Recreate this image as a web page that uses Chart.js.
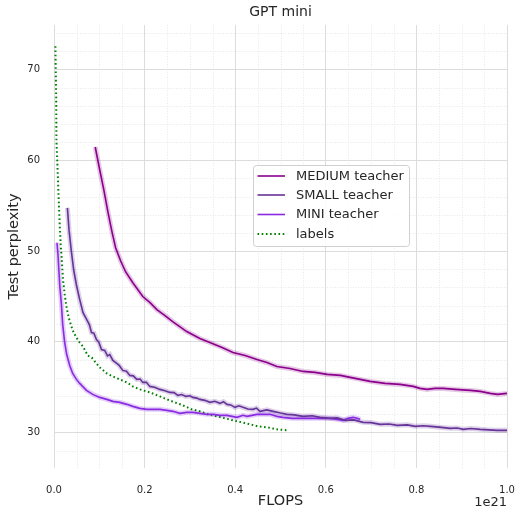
<!DOCTYPE html>
<html><head><meta charset="utf-8">
<script src="https://cdn.jsdelivr.net/npm/chart.js@4"></script>
<style>html,body{margin:0;padding:0;background:#fff}#wrap{width:516px;height:510px}</style>
</head><body><div id="wrap"><canvas id="c" width="516" height="510"></canvas></div>
<script>
const chartTitle = 'GPT mini';
const xTitle = 'FLOPS';
const yTitle = 'Test perplexity';
const xOffsetText = '1e21';
const xTicks = [0.0, 0.2, 0.4, 0.6, 0.8, 1.0];
const yTicks = [30, 40, 50, 60, 70];
const seriesNames = ['MEDIUM teacher', 'SMALL teacher', 'MINI teacher', 'labels'];

const mediumX = [0.091,0.101,0.110,0.119,0.128,0.136,0.147,0.158,0.174,0.196,0.212,0.227,0.245,0.262,0.293,0.322,0.344,0.371,0.395,0.422,0.448,0.470,0.492,0.521,0.550,0.576,0.603,0.632,0.665,0.698,0.731,0.764,0.793,0.808,0.824,0.841,0.859,0.886,0.919,0.941,0.963,0.979,1.000];
const mediumY = [61.46,58.93,56.74,54.32,52.12,50.36,48.93,47.72,46.51,44.99,44.32,43.55,42.89,42.23,41.13,40.36,39.92,39.37,38.82,38.49,38.05,37.72,37.28,37.07,36.74,36.63,36.41,36.30,35.97,35.64,35.42,35.31,35.09,34.87,34.76,34.87,34.87,34.76,34.65,34.54,34.32,34.21,34.32];

const smallX = [0.0296,0.0332,0.0385,0.0435,0.0495,0.0568,0.0641,0.0723,0.0780,0.0827,0.0880,0.0937,0.0990,0.1048,0.1120,0.1180,0.1231,0.1300,0.1364,0.1440,0.1519,0.1600,0.1674,0.1750,0.1828,0.1900,0.1961,0.2040,0.2116,0.2220,0.2337,0.2450,0.2558,0.2650,0.2734,0.2820,0.2911,0.3000,0.3066,0.3150,0.3221,0.3330,0.3442,0.3550,0.3663,0.3740,0.3818,0.3900,0.3995,0.4080,0.4172,0.4280,0.4393,0.4470,0.4547,0.4700,0.4835,0.5000,0.5144,0.5300,0.5498,0.5700,0.5873,0.6094,0.6250,0.6426,0.6620,0.6824,0.7000,0.7200,0.7400,0.7576,0.7800,0.7974,0.8150,0.8306,0.8500,0.8748,0.8900,0.9034,0.9200,0.9410,0.9600,0.9786,1.0000];
const smallY = [54.76,52.30,49.89,47.91,46.26,44.65,43.22,42.45,41.90,41.02,40.95,40.25,39.95,39.15,39.05,38.45,38.60,37.95,37.72,37.40,36.85,36.75,36.30,36.25,35.86,35.90,35.53,35.55,35.09,35.00,34.76,34.62,34.43,34.40,34.10,34.20,33.99,34.05,33.88,33.80,33.66,33.55,33.33,33.45,33.22,33.40,33.11,33.05,32.78,32.95,32.78,32.60,32.56,32.70,32.34,32.50,32.34,32.15,32.01,31.95,31.79,31.85,31.68,31.57,31.62,31.35,31.40,31.13,31.10,30.91,30.95,30.80,30.85,30.69,30.75,30.69,30.60,30.47,30.50,30.36,30.45,30.36,30.30,30.25,30.25];

const miniX = [0.0066,0.0088,0.0126,0.0164,0.0192,0.0236,0.0281,0.0347,0.0413,0.0495,0.0568,0.0716,0.0855,0.1010,0.1165,0.1298,0.1452,0.1607,0.1740,0.1894,0.2049,0.2182,0.2337,0.2492,0.2624,0.2779,0.2933,0.3066,0.3221,0.3375,0.3508,0.3663,0.3818,0.4039,0.4172,0.4260,0.4481,0.4614,0.4769,0.4923,0.5056,0.5255,0.5432,0.5653,0.5873,0.6094,0.6249,0.6381,0.6492,0.6602,0.6691,0.6758];
const miniY = [50.91,49.59,46.29,44.10,41.90,39.92,38.60,37.40,36.52,35.86,35.42,34.65,34.21,33.88,33.66,33.44,33.33,33.11,32.89,32.67,32.56,32.56,32.56,32.45,32.34,32.12,32.23,32.23,32.12,32.01,32.01,31.90,31.90,31.68,31.90,31.79,32.01,32.01,32.01,31.79,31.68,31.57,31.57,31.57,31.57,31.57,31.46,31.35,31.57,31.68,31.57,31.46];

const labelsX = [0.0031,0.0038,0.0049,0.0053,0.0071,0.0088,0.0104,0.0126,0.0148,0.0164,0.0199,0.0237,0.0274,0.0325,0.0385,0.0435,0.0495,0.0568,0.0641,0.0745,0.0833,0.1010,0.1165,0.1298,0.1452,0.1607,0.1740,0.1894,0.2115,0.2337,0.2492,0.2668,0.2845,0.3044,0.3221,0.3398,0.3597,0.3773,0.3950,0.4149,0.4326,0.4503,0.4702,0.4923,0.5144];
const labelsY = [72.56,69.92,66.63,62.23,60.04,57.84,55.64,52.88,50.69,49.59,46.84,45.20,43.88,42.67,41.68,41.02,40.47,39.92,39.48,38.49,38.27,37.18,36.52,36.19,35.86,35.53,35.09,34.76,34.43,33.99,33.66,33.33,33.00,32.56,32.34,32.01,31.79,31.57,31.35,31.13,30.91,30.69,30.58,30.36,30.25];

const FONT = "'DejaVu Sans', sans-serif";
const TXT = '#262626';
const colors = ['#8b008b', '#663399', '#8a2be2', '#008000'];
const bandColors = ['rgba(139,0,139,0.22)', 'rgba(102,51,153,0.22)', 'rgba(138,43,226,0.22)'];

function pts(xs, ys) { return xs.map((x, i) => ({x: x, y: ys[i]})); }
const seriesData = [pts(mediumX, mediumY), pts(smallX, smallY), pts(miniX, miniY), pts(labelsX, labelsY)];

const datasets = [];
seriesData.forEach((d, i) => {
  datasets.push({label: seriesNames[i], data: d, borderColor: colors[i], borderWidth: i === 3 ? 2 : 1.6,
    borderDash: i === 3 ? [1.6, 2.6] : [], pointRadius: 0, tension: 0, fill: false});
});
for (let i = 0; i < 3; i++) {
  datasets.push({label: '_band' + i, data: seriesData[i], borderColor: bandColors[i], borderWidth: 5,
    pointRadius: 0, tension: 0, fill: false});
}

const minorGrid = {
  id: 'minorGrid',
  beforeDatasetsDraw(chart) {
    const {ctx, chartArea: a, scales: {x, y}} = chart;
    ctx.save();
    ctx.strokeStyle = '#e2e2e2';
    ctx.lineWidth = 0.8;
    ctx.setLineDash([1, 1.6]);
    for (let k = 1; k < 20; k++) {
      if (k % 4 === 0) continue;
      const px = Math.round(x.getPixelForValue(k * 0.05)) + 0.5;
      ctx.beginPath(); ctx.moveTo(px, a.top); ctx.lineTo(px, a.bottom); ctx.stroke();
    }
    for (let v = 28; v <= 74; v += 2) {
      if (v % 10 === 0) continue;
      const py = Math.round(y.getPixelForValue(v)) + 0.5;
      ctx.beginPath(); ctx.moveTo(a.left, py); ctx.lineTo(a.right, py); ctx.stroke();
    }
    ctx.restore();
  }
};

const extras = {
  id: 'extras',
  afterDraw(chart) {
    const {ctx, chartArea: a} = chart;
    ctx.save();
    ctx.fillStyle = TXT;
    ctx.font = '14px ' + FONT;
    ctx.textAlign = 'center'; ctx.textBaseline = 'middle';
    ctx.fillText(chartTitle, (a.left + a.right) / 2, 12);
    ctx.font = '13px ' + FONT;
    ctx.textAlign = 'right';
    ctx.fillText(xOffsetText, a.right, 503);
    // legend
    const bx = 253.5, by = 165.5, bw = 156, bh = 81;
    ctx.fillStyle = 'rgba(255,255,255,0.85)';
    ctx.strokeStyle = '#d0d0d0';
    ctx.lineWidth = 1;
    ctx.setLineDash([]);
    ctx.beginPath();
    ctx.roundRect(bx, by, bw, bh, 3);
    ctx.fill(); ctx.stroke();
    const rows = [176, 195, 214.5, 234];
    ctx.font = '13px ' + FONT;
    ctx.textAlign = 'left';
    seriesNames.forEach((n, i) => {
      ctx.strokeStyle = colors[i];
      ctx.lineWidth = i === 3 ? 2 : 1.6;
      ctx.setLineDash(i === 3 ? [1.6, 2.6] : []);
      ctx.beginPath(); ctx.moveTo(257.5, rows[i]); ctx.lineTo(285, rows[i]); ctx.stroke();
      ctx.fillStyle = TXT;
      ctx.fillText(n, 296, rows[i] + 0.5);
    });
    ctx.restore();
  }
};

new Chart(document.getElementById('c'), {
  type: 'line',
  data: {datasets: datasets},
  options: {
    responsive: false,
    devicePixelRatio: 1,
    animation: false,
    layout: {autoPadding: false, padding: {top: 25, right: 9, left: 0, bottom: 0}},
    plugins: {legend: {display: false}, title: {display: false}, tooltip: {enabled: false}},
    scales: {
      x: {
        type: 'linear', min: 0, max: 1.0,
        afterBuildTicks: s => { s.ticks = xTicks.map(v => ({value: v})); },
        afterFit: s => { s.height = 42; s.paddingLeft = 0; s.paddingRight = 0; },
        grid: {color: '#dcdcdc', lineWidth: 1, drawTicks: false},
        border: {display: false},
        ticks: {padding: 16, color: TXT, font: {family: FONT, size: 10}, maxRotation: 0,
          callback: v => Number(v).toFixed(1)},
        title: {display: true, text: xTitle, color: TXT, font: {family: FONT, size: 14.5}, padding: {top: 0, bottom: 0}}
      },
      y: {
        type: 'linear', min: 26.1, max: 74.9,
        afterBuildTicks: s => { s.ticks = yTicks.map(v => ({value: v})); },
        afterFit: s => { s.width = 54; s.paddingTop = 0; s.paddingBottom = 0; },
        grid: {color: '#dcdcdc', lineWidth: 1, drawTicks: false},
        border: {display: false},
        ticks: {padding: 14, color: TXT, font: {family: FONT, size: 10}, callback: v => String(v)},
        title: {display: true, text: yTitle, color: TXT, font: {family: FONT, size: 14.5}, padding: {top: 6, bottom: 0}}
      }
    }
  },
  plugins: [minorGrid, extras]
});
</script></body></html>
